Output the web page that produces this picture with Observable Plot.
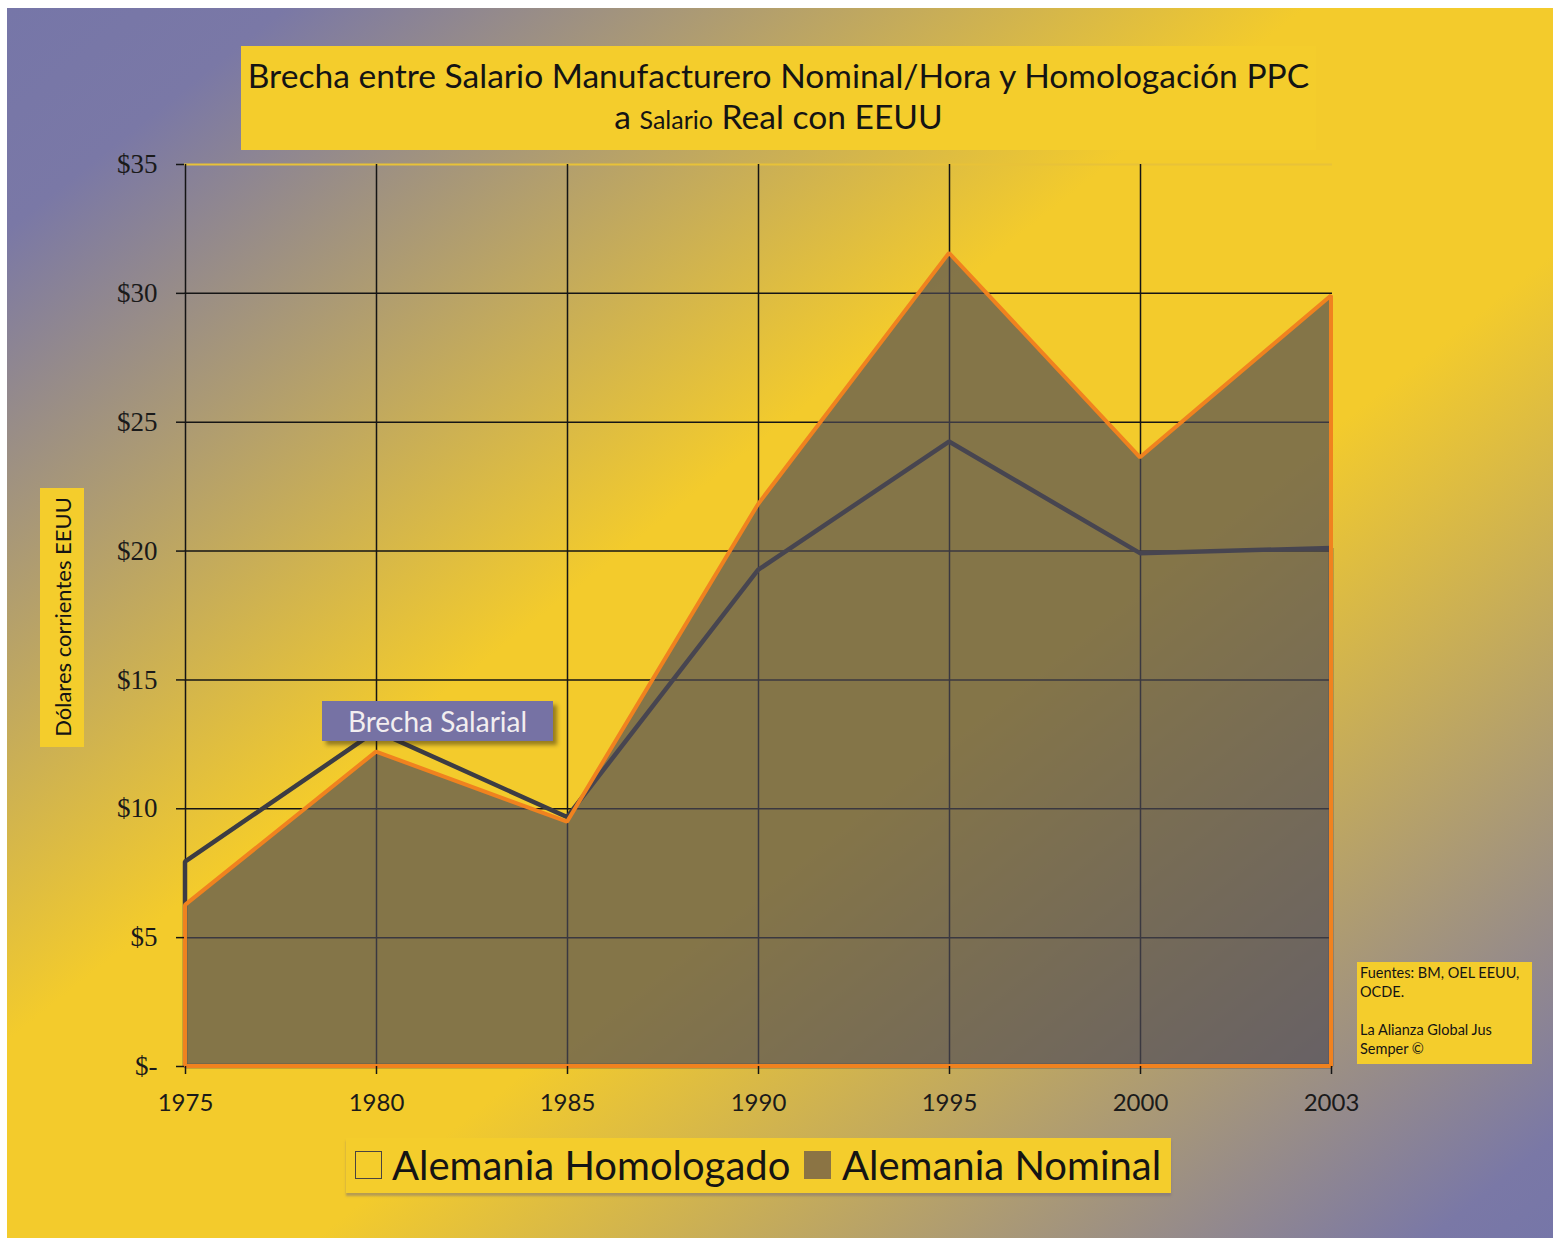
<!DOCTYPE html>
<html>
<head>
<meta charset="utf-8">
<script src="https://cdn.jsdelivr.net/npm/d3@7"></script>
<script src="https://cdn.jsdelivr.net/npm/@observablehq/plot@0.6"></script>
<style>
  html, body { margin: 0; padding: 0; background: #fff; }
  #page { position: relative; width: 1553px; height: 1238px; overflow: hidden; font-family: Lato, "Open Sans", sans-serif; }
  #bg { position: absolute; left: 7px; top: 8px; right: 0; bottom: 0;
        background: linear-gradient(to bottom right, #7676a8 0%, #7a78a6 9%, #f3cb2c 42%, #f3cb2c 60%, #7a78a6 96%, #7676a8 100%); }
  #chart { position: absolute; left: 0; top: 0; }
  .box { position: absolute; background: #f4cd2c; }
  #title { left: 241px; top: 46px; width: 1075px; height: 104px; text-align: center; color: #141414; }
  #title .l1 { position: absolute; left: 0; right: 0; top: 9px; font-size: 33.6px; line-height: 40px; }
  #title .l2 { position: absolute; left: 0; right: 0; top: 50px; font-size: 33.6px; line-height: 40px; }
  #title .small { font-size: 25px; }
  #ylab { left: 40px; top: 488px; width: 44px; height: 259px; }
  #ylab span { position: absolute; left: 22px; top: 129px; transform: translate(-50%, -50%) rotate(-90deg); white-space: nowrap; font-size: 22px; color: #141414; }
  #note { position: absolute; left: 322px; top: 701px; width: 231px; height: 40px; background: #7672a4;
          box-shadow: 4px 4px 4px rgba(40,30,10,0.45); color: #f2eef0; font-size: 28px; line-height: 40px; text-align: center; }
  #src { left: 1357px; top: 962px; width: 175px; height: 102px; font-size: 14.5px; line-height: 19px; color: #141414; }
  #src div { position: absolute; left: 3px; white-space: nowrap; }
  #legend { left: 346px; top: 1138px; width: 825px; height: 55px; box-shadow: 0 3px 2px rgba(120,110,120,0.5); }
  .sw { position: absolute; top: 13px; width: 27px; height: 28px; box-sizing: border-box; }
  .lt { position: absolute; top: 2px; font-size: 40px; line-height: 50px; color: #141414; white-space: nowrap; }
</style>
</head>
<body>
<div id="page">
  <div id="bg"></div>
  <div id="chart"></div>
  <div id="title" class="box">
    <div class="l1">Brecha entre Salario Manufacturero Nominal/Hora y Homologación PPC</div>
    <div class="l2">a <span class="small">Salario</span> Real con EEUU</div>
  </div>
  <div id="ylab" class="box"><span>Dólares corrientes EEUU</span></div>
  <div id="note">Brecha Salarial</div>
  <div id="src" class="box">
    <div style="top:1px">Fuentes: BM, OEL EEUU,</div>
    <div style="top:20px">OCDE.</div>
    <div style="top:58px">La Alianza Global Jus</div>
    <div style="top:77px">Semper ©</div>
  </div>
  <div id="legend" class="box">
    <div class="sw" style="left:9px; border:1.5px solid #4a4440;"></div>
    <div class="lt" style="left:46px">Alemania Homologado</div>
    <div class="sw" style="left:458px; background:#8b7444;"></div>
    <div class="lt" style="left:496px">Alemania Nominal</div>
  </div>
</div>
<script>
const years = ["1975", "1980", "1985", "1990", "1995", "2000", "2003"];
const nominal = [6.25, 12.2, 9.48, 21.8, 31.55, 23.62, 29.9];
const homologado = [7.93, 13.0, 9.66, 19.25, 24.23, 19.9, 20.1];
const yTicks = [0, 5, 10, 15, 20, 25, 30, 35];
const yTickLabels = ["$-", "$5", "$10", "$15", "$20", "$25", "$30", "$35"];
const gridValues = [5, 10, 15, 20, 25, 30];
const gridYears = ["1975", "1980", "1985", "1990", "1995", "2000"];

const data = years.map((year, i) => ({year, nominal: nominal[i], homologado: homologado[i]}));

const chart = Plot.plot({
  width: 1553,
  height: 1238,
  marginLeft: 184,
  marginRight: 221,
  marginTop: 164,
  marginBottom: 172,
  style: {background: "transparent", overflow: "visible"},
  x: {type: "point", domain: years, padding: 0, axis: null},
  y: {domain: [0, 35], axis: null},
  marks: [
    Plot.ruleY(gridValues, {stroke: "#151515", strokeWidth: 1.5}),
    Plot.ruleY([35], {stroke: "#e8c238", strokeWidth: 2}),
    Plot.ruleX(gridYears, {stroke: "#151515", strokeWidth: 1.5}),
    Plot.areaY(data, {x: "year", y: "homologado", fill: "none", stroke: "#3c3c44", strokeWidth: 4.5, strokeLinejoin: "miter"}),
    Plot.areaY(data, {x: "year", y: "nominal", fill: "rgb(78,75,87)", fillOpacity: 0.67, stroke: "#f0821f", strokeWidth: 4, strokeLinejoin: "miter"}),
    Plot.axisY({ticks: yTicks, tickFormat: (d) => yTickLabels[yTicks.indexOf(d)], tickSize: 8, tickPadding: 19,
      stroke: "#151515", strokeWidth: 1.5, fill: "#1a1a1a", fontSize: 27, fontFamily: "Liberation Serif", label: null}),
    Plot.axisX({ticks: years, tickSize: 8, tickPadding: 19, stroke: "#151515", strokeWidth: 1.5,
      fill: "#1a1a1a", fontSize: 24, fontFamily: "Lato", label: null})
  ]
});
document.getElementById("chart").appendChild(chart);
</script>
</body>
</html>
